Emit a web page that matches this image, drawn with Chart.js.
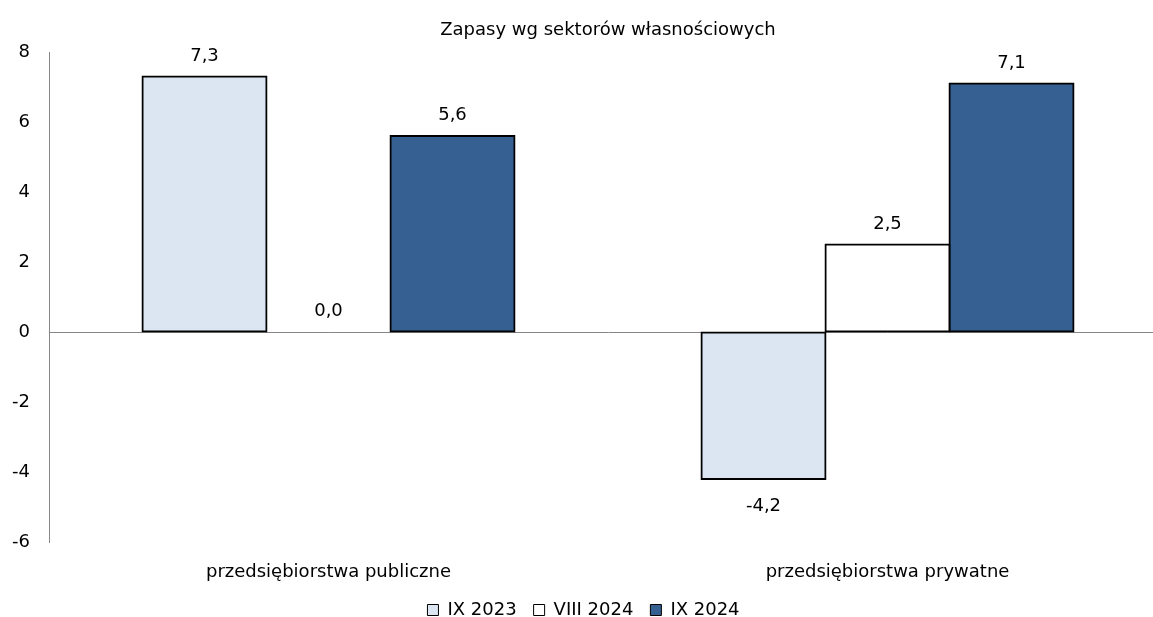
<!DOCTYPE html>
<html>
<head>
<meta charset="utf-8">
<script src="https://cdn.jsdelivr.net/npm/chart.js@4"></script>
<style>
  html, body { margin: 0; padding: 0; overflow: hidden; background: #fff; }
  #wrap { position: relative; width: 1167px; height: 629px; }
</style>
</head>
<body>
<div id="wrap"><canvas id="stocksChart"></canvas></div>
<script>
// dane z wykresu
const categories = ["przedsiębiorstwa publiczne", "przedsiębiorstwa prywatne"];
const seriesNames = ["IX 2023", "VIII 2024", "IX 2024"];
const ix2023 = [7.3, -4.2];
const viii2024 = [0.0, 2.5];
const ix2024 = [5.6, 7.1];
const yMin = -6;
const yMax = 8;
const yStep = 2;

const seriesColors = ["#dce6f2", "#ffffff", "#366092"];

Chart.defaults.font.family = '"DejaVu Sans", sans-serif';
Chart.defaults.font.size = 18;
Chart.defaults.color = "#000";

// zero nie ma słupka – bez ramki i wypełnienia
function makeDataset(label, data, color) {
  return {
    label,
    data,
    backgroundColor: (c) => (c.raw === 0 ? "rgba(0,0,0,0)" : color),
    borderColor: "#000",
    borderWidth: (c) => (c.raw === 0 ? 0 : 2),
    borderSkipped: false,
    inflateAmount: (c) => (c.raw === 0 ? 0 : 1),
    categoryPercentage: 0.6655,
    barPercentage: 1,
  };
}

// etykiety wartości z przecinkiem
const valueLabels = {
  id: "valueLabels",
  afterDatasetsDraw(chart) {
    const ctx = chart.ctx;
    ctx.save();
    ctx.font = '18px "DejaVu Sans"';
    ctx.fillStyle = "#000";
    ctx.textAlign = "center";
    ctx.textBaseline = "alphabetic";
    chart.data.datasets.forEach((ds, i) => {
      chart.getDatasetMeta(i).data.forEach((bar, j) => {
        const v = ds.data[j];
        const txt = v.toFixed(1).replace(".", ",");
        const y = v >= 0
          ? Math.min(bar.y, bar.base) - 16
          : Math.max(bar.y, bar.base) + 32;
        ctx.fillText(txt, bar.x, y);
      });
    });
    ctx.restore();
  },
};

new Chart(document.getElementById("stocksChart"), {
  type: "bar",
  data: {
    labels: categories,
    datasets: [
      makeDataset(seriesNames[0], ix2023, seriesColors[0]),
      makeDataset(seriesNames[1], viii2024, seriesColors[1]),
      makeDataset(seriesNames[2], ix2024, seriesColors[2]),
    ],
  },
  options: {
    responsive: true,
    maintainAspectRatio: false,
    animation: false,
    layout: { padding: 0 },
    plugins: {
      title: {
        display: true,
        text: "Zapasy wg sektorów własnościowych",
        fullSize: false,
        font: { size: 18, weight: "normal" },
        color: "#000",
        padding: { top: 20, bottom: 10.4 },
      },
      legend: {
        position: "bottom",
        labels: {
          boxWidth: 11,
          boxHeight: 11,
          padding: 17,
          color: "#000",
          font: { size: 18 },
          generateLabels: (chart) =>
            Chart.defaults.plugins.legend.labels
              .generateLabels(chart)
              .map((l) => ({ ...l, lineWidth: 1, strokeStyle: "#000" })),
        },
      },
      tooltip: { enabled: false },
    },
    scales: {
      x: {
        afterFit: (scale) => { scale.height = 42; },
        grid: { display: false, drawTicks: false },
        border: { display: false },
        ticks: { padding: 20, maxRotation: 0 },
      },
      y: {
        min: yMin,
        max: yMax,
        afterFit: (scale) => { scale.width = 49; },
        ticks: {
          stepSize: yStep,
          padding: 19,
          callback: (v) => String(v),
        },
        grid: {
          drawTicks: false,
          color: (c) => (c.tick && c.tick.value === 0 ? "#868686" : "rgba(0,0,0,0)"),
          lineWidth: 1,
        },
        border: { display: true, color: "#868686", width: 1 },
      },
    },
  },
  plugins: [valueLabels],
});
</script>
</body>
</html>
